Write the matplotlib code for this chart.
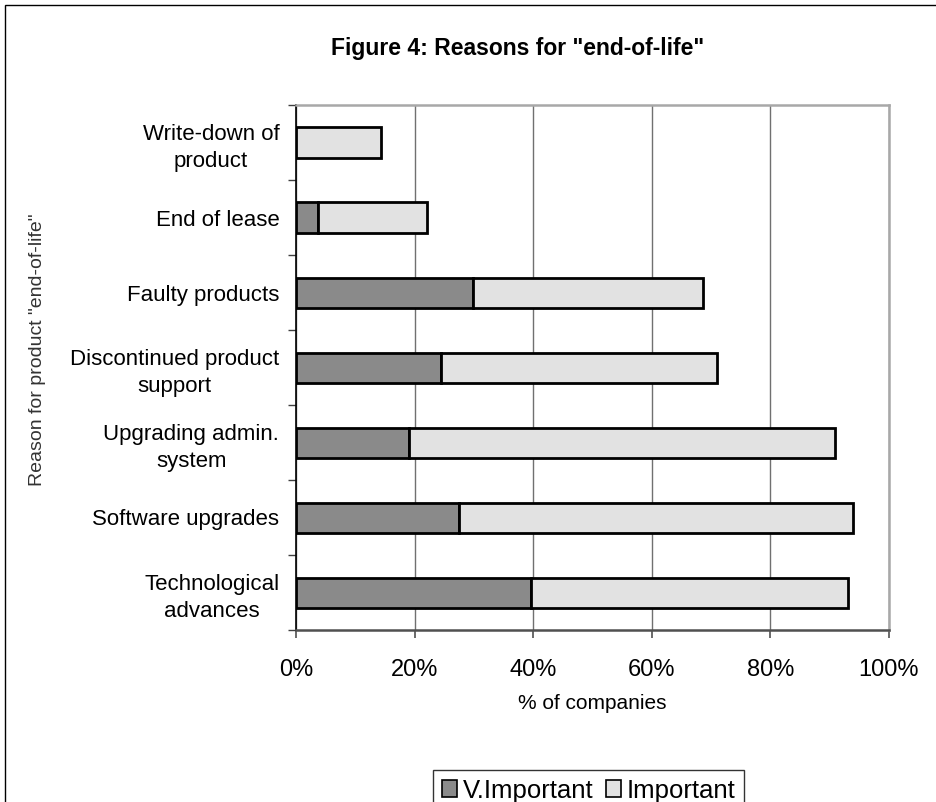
import numpy as np
import matplotlib.pyplot as plt
from matplotlib.patches import Rectangle

plt.rcParams['font.family'] = ['Liberation Sans', 'DejaVu Sans']

# Survey results, bottom category first
reasons = ['Technological\nadvances', 'Software upgrades', 'Upgrading admin.\nsystem',
           'Discontinued product\nsupport', 'Faulty products', 'End of lease',
           'Write-down of\nproduct']
v_important = [39.7, 27.5, 19.1, 24.5, 29.8, 3.7, 0.0]
important = [53.4, 66.5, 71.8, 46.5, 38.9, 18.4, 14.4]
xticks = [0, 20, 40, 60, 80, 100]
xtick_labels = ['0%', '20%', '40%', '60%', '80%', '100%']

W, H = 936, 802
fig = plt.figure(figsize=(W / 100, H / 100), dpi=100)
fig.patch.set_facecolor('white')

# outer chart frame (runs off the right and bottom edges)
fig.add_artist(Rectangle((5 / W, -0.05), 1.0, 1 - 5 / H + 0.05, transform=fig.transFigure,
                         fill=False, edgecolor='black', linewidth=1.0))

ax = fig.add_axes([296 / W, 1 - 630 / H, (889 - 296) / W, (630 - 105) / H])

y = np.arange(len(reasons))
bar_h = 0.4
ax.barh(y, v_important, height=bar_h, color='#8a8a8a', edgecolor='black',
        linewidth=2.0, label='V.Important', zorder=3)
ax.barh(y, important, left=v_important, height=bar_h, color='#e2e2e2',
        edgecolor='black', linewidth=2.0, label='Important', zorder=3)

ax.set_xlim(0, 100)
ax.set_ylim(-0.5, len(reasons) - 0.5)
ax.set_xticks(xticks)
ax.set_xticklabels(xtick_labels, fontsize=17)
ax.xaxis.grid(True, color='#707070', linewidth=1.0, zorder=0)
ax.tick_params(axis='x', length=6, width=1.2, color='#505050', pad=15)

ax.set_yticks(y)
ax.set_yticklabels(reasons, fontsize=16, linespacing=1.35)
for lbl in ax.get_yticklabels():
    lbl.set_multialignment('center')
ax.tick_params(axis='y', which='major', length=0, pad=12)
ax.set_yticks(np.arange(-0.5, len(reasons)), minor=True)
ax.tick_params(axis='y', which='minor', length=6, width=1.0, color='#404040')

ax.spines['left'].set_color('black')
ax.spines['left'].set_linewidth(1.2)
ax.spines['bottom'].set_color('#505050')
ax.spines['bottom'].set_linewidth(1.8)
for s in ('top', 'right'):
    ax.spines[s].set_color('#a8a8a8')
    ax.spines[s].set_linewidth(1.8)

ax.set_xlabel('% of companies', fontsize=15)
ax.xaxis.set_label_coords(0.5, -(694 - 630) / (630 - 105))
ax.set_ylabel('Reason for product "end-of-life"', fontsize=14, color='#333333')
ax.yaxis.set_label_coords((46 - 296) / (889 - 296), (630 - 350) / (630 - 105))

fig.text(518 / W, 1 - 49 / H, 'Figure 4: Reasons for "end-of-life"', ha='center', va='center',
         fontsize=16.5, fontweight='bold')

leg = fig.legend(loc='lower left', bbox_to_anchor=(433 / W, -0.012), ncol=2, fontsize=18.5,
                 frameon=True, fancybox=False, edgecolor='black', handlelength=0.6,
                 handleheight=0.6, handletextpad=0.2, columnspacing=0.5, borderpad=0.35,
                 borderaxespad=0)
leg.get_frame().set_linewidth(1.0)
for patch in leg.get_patches():
    patch.set_linewidth(1.2)

fig.savefig('out.png', dpi=100)
